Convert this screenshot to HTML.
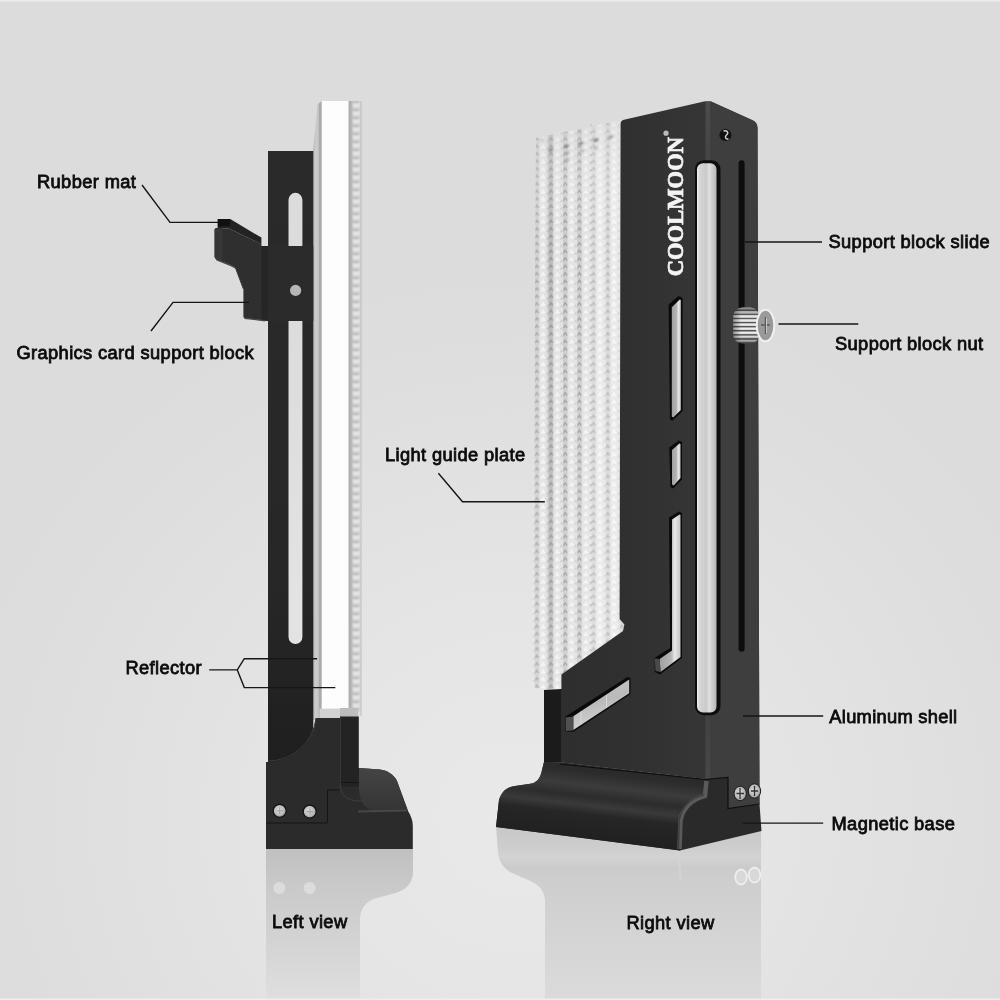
<!DOCTYPE html>
<html><head><meta charset="utf-8">
<style>
html,body{margin:0;padding:0;width:1000px;height:1000px;overflow:hidden;background:#dcdcdc;}
svg{display:block;position:absolute;left:0;top:0;will-change:transform;}
.lbl{font-family:"Liberation Sans",sans-serif;font-size:18.3px;fill:#0c0c0c;stroke:#0c0c0c;stroke-width:0.8px;letter-spacing:0.37px;}
</style></head><body>
<svg width="1000" height="1000" viewBox="0 0 1000 1000">
<defs>
  <radialGradient id="bgGlow" gradientUnits="userSpaceOnUse" cx="520" cy="820" r="640" gradientTransform="translate(520 820) scale(1 0.95) translate(-520 -820)">
    <stop offset="0" stop-color="#e9e9e9"/>
    <stop offset="0.35" stop-color="#e5e5e5"/>
    <stop offset="0.7" stop-color="#dfdfdf"/>
    <stop offset="1" stop-color="#dcdcdc" stop-opacity="0"/>
  </radialGradient>
  <linearGradient id="reflL" x1="0" y1="849" x2="0" y2="1000" gradientUnits="userSpaceOnUse">
    <stop offset="0" stop-color="#c0c0c0"/>
    <stop offset="0.3" stop-color="#cbcbcb"/>
    <stop offset="0.7" stop-color="#d6d6d6"/>
    <stop offset="1" stop-color="#dfdfdf"/>
  </linearGradient>
  <linearGradient id="reflR" x1="0" y1="830" x2="0" y2="1000" gradientUnits="userSpaceOnUse">
    <stop offset="0" stop-color="#c9c9c9"/>
    <stop offset="0.1" stop-color="#cdcdcd"/>
    <stop offset="0.16" stop-color="#d3d3d3"/>
    <stop offset="0.22" stop-color="#cbcbcb"/>
    <stop offset="0.3" stop-color="#cecece"/>
    <stop offset="0.6" stop-color="#d4d4d4"/>
    <stop offset="1" stop-color="#dbdbdb"/>
  </linearGradient>
  <linearGradient id="strip" x1="313" y1="0" x2="322" y2="0" gradientUnits="userSpaceOnUse">
    <stop offset="0" stop-color="#b4b4b4"/>
    <stop offset="0.3" stop-color="#cdcdcd"/>
    <stop offset="0.6" stop-color="#c4c4c4"/>
    <stop offset="0.75" stop-color="#a4a4a4"/>
    <stop offset="0.92" stop-color="#b0b0b0"/>
    <stop offset="1" stop-color="#eeeeee"/>
  </linearGradient>
  <linearGradient id="rail" x1="697" y1="0" x2="716.5" y2="0" gradientUnits="userSpaceOnUse">
    <stop offset="0" stop-color="#f0f0f0"/>
    <stop offset="0.15" stop-color="#d4d4d4"/>
    <stop offset="0.5" stop-color="#cacaca"/>
    <stop offset="0.6" stop-color="#e0e0e0"/>
    <stop offset="1" stop-color="#b6b6b6"/>
  </linearGradient>
  <pattern id="dots" x="348.5" y="101" width="13" height="8" patternUnits="userSpaceOnUse">
    <rect width="13" height="8" fill="#cfcfcf"/>
    <rect x="0" width="2.5" height="8" fill="#9a9a9a"/>
    <rect x="2.5" width="1.5" height="8" fill="#bcbcbc"/>
    <ellipse cx="7.5" cy="4" rx="3.2" ry="3" fill="#e6e6e6"/>
    <path d="M5,0.4 L7.5,1.6 L10,0.4" stroke="#9c9c9c" stroke-width="1.3" fill="none"/>
    <rect x="11" width="2" height="8" fill="#dadada"/>
  </pattern>
  <pattern id="plate" x="534.6" y="0" width="14.2" height="7.5" patternUnits="userSpaceOnUse">
    <rect width="14.2" height="7.5" fill="#e2e2e2"/>
    <rect x="0" width="4.5" height="7.5" fill="#cccccc"/>
    <path d="M0.4,5.6 L2.2,2.8 L4,5.6" stroke="#9c9c9c" stroke-width="1.3" fill="none"/>
    <path d="M8.6,1.2 L11.3,6.2 L5.9,6.2 Z" fill="#f4f4f4"/>
    <path d="M11.8,7 L12.8,5.5 L13.8,7" stroke="#c4c4c4" stroke-width="1" fill="none"/>
  </pattern>
  <filter id="soft" x="-5%" y="-5%" width="110%" height="110%"><feGaussianBlur stdDeviation="0.55"/></filter>
  <filter id="soft2" x="-20%" y="-5%" width="140%" height="110%"><feGaussianBlur stdDeviation="0.8"/></filter>
  <clipPath id="ledgeClip"><rect x="348.5" y="101" width="13" height="615"/></clipPath>
  <clipPath id="rplateClip"><path d="M536,138 L550,135 L618,121 L620,121 L620,619 L624.4,624.5 L623,631 L561.4,674.4 L561,689 L544,690 L532,686.4 Z"/></clipPath>
  <linearGradient id="plateShade" x1="0" y1="120" x2="0" y2="690" gradientUnits="userSpaceOnUse">
    <stop offset="0" stop-color="#cfcfcf" stop-opacity="0.35"/>
    <stop offset="0.2" stop-color="#ffffff" stop-opacity="0"/>
    <stop offset="1" stop-color="#ffffff" stop-opacity="0.1"/>
  </linearGradient>
  <linearGradient id="plateH" x1="533" y1="0" x2="620" y2="0" gradientUnits="userSpaceOnUse">
    <stop offset="0" stop-color="#ffffff" stop-opacity="0.15"/>
    <stop offset="0.15" stop-color="#ffffff" stop-opacity="0"/>
    <stop offset="0.17" stop-color="#707070" stop-opacity="0.18"/>
    <stop offset="0.22" stop-color="#707070" stop-opacity="0.18"/>
    <stop offset="0.25" stop-color="#ffffff" stop-opacity="0"/>
    <stop offset="0.62" stop-color="#ffffff" stop-opacity="0.05"/>
    <stop offset="0.68" stop-color="#ffffff" stop-opacity="0.3"/>
    <stop offset="1" stop-color="#ffffff" stop-opacity="0.25"/>
  </linearGradient>
  <linearGradient id="barG" x1="0" y1="151" x2="0" y2="766" gradientUnits="userSpaceOnUse">
    <stop offset="0" stop-color="#2a2a2a"/>
    <stop offset="0.7" stop-color="#272727"/>
    <stop offset="1" stop-color="#1f1f1f"/>
  </linearGradient>
  <linearGradient id="slotG" x1="0" y1="0" x2="1" y2="0">
    <stop offset="0" stop-color="#a0a0a0"/>
    <stop offset="0.55" stop-color="#b6b6b6"/>
    <stop offset="0.72" stop-color="#e8e8e8"/>
    <stop offset="1" stop-color="#c6c6c6"/>
  </linearGradient>
  <linearGradient id="slotD" x1="0" y1="0" x2="0.2" y2="1">
    <stop offset="0" stop-color="#c4c4c4"/>
    <stop offset="0.5" stop-color="#bababa"/>
    <stop offset="1" stop-color="#d2d2d2"/>
  </linearGradient>
  <linearGradient id="cornerG" x1="0" y1="102" x2="0" y2="779" gradientUnits="userSpaceOnUse">
    <stop offset="0" stop-color="#4c4c4c"/>
    <stop offset="0.12" stop-color="#424242"/>
    <stop offset="0.5" stop-color="#3c3c3c"/>
    <stop offset="0.85" stop-color="#3e3e3e"/>
    <stop offset="1" stop-color="#484848"/>
  </linearGradient>
  <linearGradient id="frontG" x1="560" y1="0" x2="710" y2="0" gradientUnits="userSpaceOnUse">
    <stop offset="0" stop-color="#2e2e2e"/>
    <stop offset="0.45" stop-color="#303030"/>
    <stop offset="1" stop-color="#363636"/>
  </linearGradient>
  <linearGradient id="lipL" x1="0" y1="768" x2="0" y2="811" gradientUnits="userSpaceOnUse">
    <stop offset="0" stop-color="#444444"/>
    <stop offset="0.5" stop-color="#3c3c3c"/>
    <stop offset="1" stop-color="#343434"/>
  </linearGradient>
  <linearGradient id="lipR" gradientUnits="userSpaceOnUse" x1="0" y1="760" x2="0" y2="850" gradientTransform="rotate(6.6 600 800)">
    <stop offset="0" stop-color="#262626"/>
    <stop offset="0.16" stop-color="#2c2c2c"/>
    <stop offset="0.3" stop-color="#3c3c3c"/>
    <stop offset="0.42" stop-color="#2c2c2c"/>
    <stop offset="0.52" stop-color="#3a3a3a"/>
    <stop offset="0.62" stop-color="#262626"/>
    <stop offset="1" stop-color="#1e1e1e"/>
  </linearGradient>
  <radialGradient id="screw" cx="0.45" cy="0.45" r="0.6">
    <stop offset="0" stop-color="#e0e0e0"/>
    <stop offset="0.6" stop-color="#bcbcbc"/>
    <stop offset="1" stop-color="#8a8a8a"/>
  </radialGradient>
  <linearGradient id="knurl" x1="0" y1="307.5" x2="0" y2="311.6" gradientUnits="userSpaceOnUse" spreadMethod="repeat">
    <stop offset="0" stop-color="#f6f6f6"/>
    <stop offset="0.4" stop-color="#d8d8d8"/>
    <stop offset="0.62" stop-color="#505050"/>
    <stop offset="0.78" stop-color="#707070"/>
    <stop offset="1" stop-color="#f6f6f6"/>
  </linearGradient>
  <linearGradient id="knurlShade" x1="0" y1="0" x2="0" y2="1">
    <stop offset="0" stop-color="#000" stop-opacity="0.45"/>
    <stop offset="0.25" stop-color="#000" stop-opacity="0.0"/>
    <stop offset="0.75" stop-color="#000" stop-opacity="0.0"/>
    <stop offset="1" stop-color="#000" stop-opacity="0.45"/>
  </linearGradient>
  <linearGradient id="knurlShadeH" x1="0" y1="0" x2="1" y2="0">
    <stop offset="0" stop-color="#000" stop-opacity="0.35"/>
    <stop offset="0.3" stop-color="#000" stop-opacity="0.0"/>
    <stop offset="1" stop-color="#000" stop-opacity="0.0"/>
  </linearGradient>
</defs>

<!-- background -->
<rect x="0" y="0" width="1000" height="1000" fill="#dcdcdc"/>
<rect x="0" y="0" width="1000" height="1000" fill="url(#bgGlow)"/>
<rect x="0" y="0" width="1000" height="1.5" fill="#ececec"/>

<!-- ================= LEFT VIEW ================= -->
<!-- reflection -->
<path d="M266,849 L413,849 L413,872 C413,884 405,891 392,894 L377,898 C366,901 360,908 360,920 L360,1000 L266,1000 Z" fill="url(#reflL)"/>
<circle cx="279.4" cy="888" r="6" fill="#dcdcdc"/>
<circle cx="309.6" cy="888" r="6" fill="#dcdcdc"/>

<!-- light guide plate (side) -->
<path d="M313,151 L317.5,104 L322,101 L322,720 L313,720 Z" fill="url(#strip)"/>
<rect x="322" y="101" width="26.5" height="608" fill="#fdfdfd"/>
<g clip-path="url(#ledgeClip)"><rect x="346" y="98" width="18" height="622" fill="url(#dots)" filter="url(#soft2)"/></g>
<rect x="319.5" y="708.6" width="21" height="11.5" fill="#d2d2d2"/>
<rect x="340" y="708" width="18" height="9" fill="#bdbdbd"/>

<!-- dark bar with slots -->
<path fill-rule="evenodd" fill="url(#barG)" d="M268,151 H313.3 V766 H268 Z
  M288.5,199.8 A6.95,6.95 0 0 1 302.4,199.8 V245.5 Q302.4,247.2 300.7,247.2 H290.2 Q288.5,247.2 288.5,245.5 Z
  M288.5,321 H302.4 V637 A6.95,6.95 0 0 1 288.5,637 Z"/>
<!-- clamp + pin -->
<rect x="268" y="246" width="45.3" height="75" fill="#2b2b2b"/>
<circle cx="295.6" cy="290.4" r="5.6" fill="#b6b6b6"/>

<!-- support block -->
<path d="M214.6,230 C214.6,228.8 215.5,228 217,228 L229,228.5 L261.4,244 L261.4,246 L268,246 L268,321 L265,320.6 L244.5,318 C243.6,317.8 243.4,317 243.4,316 L243.4,289 L235.5,268 C232,265 226,263 220,261 C216.5,259.8 214.6,258.5 214.6,256.5 Z" fill="#2f2f2f"/>
<path d="M214.6,230 C214.6,228.8 215.5,228 217,228 L222.5,228.2 L222.5,261.5 L220,261 C216.5,259.8 214.6,258.5 214.6,256.5 Z" fill="#373737"/>
<path d="M261.4,246 L268,246 L268,321 L261.5,320.4 Z" fill="#262626"/>
<path d="M217.6,228 L217.6,226.2 L230.2,219 L261.4,237.6 L261.4,244.2 L229,228.5 Z" fill="#232323"/>
<rect x="217.6" y="219" width="12.6" height="7.2" fill="#111"/>
<path d="M216,259.5 C222,262.5 230,264.5 235.5,268" stroke="#474747" stroke-width="1.2" fill="none"/>
<path d="M243.4,289 L235.5,268" stroke="#3a3a3a" stroke-width="1" fill="none"/>
<path d="M244.5,318.2 L265,320.8" stroke="#484848" stroke-width="1.4" fill="none"/>

<!-- lower section -->
<path d="M266,762 L268,762 A48,48 0 0 0 316,718 L340,718 L340,768.5 L359,768 L380,769.4 C386,770 394,774 397,781 L408,811 C411,816 412.8,820 412.8,826 L412.8,849 L266,849 Z" fill="#2b2b2b"/>
<path d="M268,761 A48,48 0 0 0 316,718" stroke="#3a3a3a" stroke-width="1" fill="none"/>
<path d="M359,768 L380,769.4 C386,770 394,774 397,781 L408,811 L374,811 C364,809 359,800 359,788 Z" fill="url(#lipL)"/>
<path d="M358,811.5 L407,810.5" stroke="#474747" stroke-width="2" fill="none"/>
<rect x="340" y="716.5" width="18.8" height="70" fill="#232323"/>
<path d="M340.5,716.5 V790" stroke="#363636" stroke-width="1"/>
<path d="M340,786 C341,797 350,801 360,801 L366,801" stroke="#3c3c3c" stroke-width="1.2" fill="none"/>
<path d="M341,782.5 H358.8" stroke="#151515" stroke-width="1"/>
<path d="M266.5,823 H327.5 V790 H340" stroke="#151515" stroke-width="1" fill="none"/>
<circle cx="279.7" cy="810.8" r="6.5" fill="url(#screw)" stroke="#101010" stroke-width="1.2"/>
<circle cx="309.7" cy="811.6" r="6.5" fill="url(#screw)" stroke="#101010" stroke-width="1.2"/>
<path d="M279.7,807.5 V814 M276.5,810.7 H283 M310,808.4 V814.8 M306.8,811.6 H313.2" stroke="#a0a0a0" stroke-width="1.1"/>

<!-- ================= RIGHT VIEW ================= -->
<!-- reflection -->
<path d="M496,827 L680,850.4 L761,831 L761,1000 L545,1000 L545,900 C544,889 538,884 526,879 L512,873 C503,868 499,862 498,852 Z" fill="url(#reflR)"/>
<ellipse cx="741" cy="877" rx="5.8" ry="7.5" fill="#d8d8d8" stroke="#eeeeee" stroke-width="1.8"/>
<ellipse cx="754.5" cy="875" rx="5.8" ry="7.5" fill="#d8d8d8" stroke="#eeeeee" stroke-width="1.8"/>
<path d="M678.5,852 L680.5,880" stroke="#d3d3d3" stroke-width="2.2" fill="none"/>

<!-- light guide plate -->
<g clip-path="url(#rplateClip)"><rect x="528" y="115" width="100" height="580" fill="url(#plate)" filter="url(#soft)"/></g>
<path d="M536,138 L550,135 L618,121 L620,121 L620,619 L624.4,624.5 L623,631 L561.4,674.4 L561,689 L544,690 L532,686.4 Z" fill="url(#plateH)"/>
<path d="M536,138 L550,135 L618,121 L620,121 L620,619 L624.4,624.5 L623,631 L561.4,674.4 L561,689 L544,690 L532,686.4 Z" fill="url(#plateShade)"/>
<g filter="url(#soft2)">
<ellipse cx="550.7" cy="150" rx="2.4" ry="1.3" transform="rotate(-35 550.7 150)" fill="#7e7e7e"/>
<ellipse cx="566.5" cy="146.3" rx="2.8" ry="1.4" transform="rotate(-20 566.5 146.3)" fill="#7e7e7e"/>
<ellipse cx="580.7" cy="143.5" rx="2.8" ry="1.4" transform="rotate(-20 580.7 143.5)" fill="#808080"/>
<ellipse cx="596" cy="140.2" rx="3" ry="1.5" transform="rotate(-20 596 140.2)" fill="#7c7c7c"/>
<ellipse cx="610.8" cy="137" rx="2.6" ry="1.3" transform="rotate(-20 610.8 137)" fill="#909090"/>
<ellipse cx="567" cy="153" rx="2.5" ry="1.2" transform="rotate(-20 567 153)" fill="#a0a0a0"/>
<ellipse cx="567" cy="160" rx="2.5" ry="1.2" transform="rotate(-20 567 160)" fill="#a8a8a8"/>
<ellipse cx="582" cy="151" rx="2.4" ry="1.1" transform="rotate(-20 582 151)" fill="#acacac"/>
<ellipse cx="596" cy="148" rx="2.4" ry="1.1" transform="rotate(-20 596 148)" fill="#acacac"/>
<ellipse cx="542" cy="140" rx="3" ry="1.2" fill="#c4c4c4"/>
</g>
<path d="M591,124 V655" stroke="#c2c2c2" stroke-width="1.5" stroke-dasharray="2 5.5" fill="none"/>

<!-- body -->
<path d="M620.6,124 C620.6,121 622,120 625,119.4 L704,101.6 C706,101 709,101 711,101.6 L752,120 C755.5,121.5 757.5,124 757.5,128 L759.5,804 L728,808.5 L728,777 L705,779 L561.4,762.5 L561.4,674.4 L623,631 L624.4,624.5 L619.6,619 Z" fill="url(#frontG)"/>
<path d="M710,101.6 L711,101.6 L752,120 C755.5,121.5 757.5,124 757.5,128 L759.5,804 L728,808.5 L728,777 L710,779 Z" fill="#3e3e3e"/>
<rect x="705.5" y="102" width="4.5" height="677" fill="url(#cornerG)"/>
<path d="M544,690 L561.4,689 L561.4,762.5 L544,762 Z" fill="#1b1b1b"/>
<path d="M561.4,689 V762.5" stroke="#2a2a2a" stroke-width="1"/>

<!-- rail + slots -->
<rect x="695" y="160.2" width="25.5" height="555" rx="9" fill="#0e0e0e"/>
<rect x="697" y="163.2" width="19.5" height="549.3" rx="6" fill="url(#rail)"/>
<rect x="738.6" y="160.2" width="6" height="491.5" rx="3" fill="#0d0d0d"/>
<circle cx="725.4" cy="135" r="6" fill="#111"/>
<path d="M723.5,131 C727.5,130 729,133 726.5,135 C724.5,137 725.5,139.5 728.5,139" stroke="#d0d0d0" stroke-width="1.4" fill="none"/>

<!-- front slots -->
<path d="M668.6,304.4 L678.6,296 L682.6,298 L682.6,411 L672,421 L670,419 Z" fill="#0a0a0a"/>
<path d="M671.8,307.2 L679.8,299.6 L680.8,300 L680.8,410 L673.2,417.5 L671.8,416.5 Z" fill="url(#slotG)"/>
<path d="M669.2,447.5 L679,440.5 L682,442 L682,479.5 L673,488.5 L670.5,487 Z" fill="#0a0a0a"/>
<path d="M672,450 L679.5,443.5 L680.5,444 L680.5,478 L673.8,485.5 L672,484.5 Z" fill="url(#slotG)"/>
<path d="M669,517.5 L679,511.5 L682,513 L682,658 L660,674.5 L654.8,672 L654.8,657.8 L670.2,648 Z" fill="#0a0a0a"/>
<path d="M672,519.5 L679.5,514.5 L680.5,515 L680.5,657 L660.5,672 L659.7,659 L672,650.5 Z" fill="url(#slotG)"/>
<path d="M654.8,658.5 L659.7,659 L660.5,672 L655.5,671 Z" fill="#4a4a4a"/>
<path d="M565.6,716.5 L627.5,677 L630.5,678 L630.5,694 L573.5,731.8 L565.6,731.5 Z" fill="#0a0a0a"/>
<path d="M573.3,716.2 L629.2,679.6 L629.2,693.2 L573.3,730 Z" fill="url(#slotD)"/>
<path d="M565.8,717.5 L573.3,716.5 L573.3,730.5 L566,731 Z" fill="#505050"/>
<path d="M581,724.5 V711.5 M606.5,708 V695" stroke="#d8d8d8" stroke-width="1"/>

<!-- COOLMOON -->
<text transform="translate(682.8,276.3) rotate(-90)" font-family="Liberation Serif" font-weight="bold" font-size="22.6" fill="#f4f4f4" stroke="#f4f4f4" stroke-width="0.7">COOLMOON</text>
<circle cx="666" cy="133.2" r="2.6" fill="#bbb"/>

<!-- nut -->
<rect x="733.3" y="307.6" width="26" height="35.8" rx="9" fill="url(#knurl)"/>
<rect x="733.3" y="307.6" width="26" height="35.8" rx="9" fill="url(#knurlShade)"/>
<rect x="733.3" y="307.6" width="26" height="35.8" rx="9" fill="url(#knurlShadeH)"/>
<ellipse cx="765.5" cy="325.5" rx="8.8" ry="15.8" fill="#9a9a9a" stroke="#f0f0f0" stroke-width="2"/>
<path d="M765.5,317 V334 M761,325 H770" stroke="#5a5a5a" stroke-width="1.4"/><path d="M766.5,318 V333" stroke="#d8d8d8" stroke-width="0.8"/>

<!-- base -->
<path d="M496,827 L499,800 C502,790 508,787 515,786 L532,783.5 C538,782 541,776 542,770 L544,762 L561.4,762.5 L705,779 L728,777 L728,808.5 L759.5,804 L761.5,831 L680,850.4 Z" fill="#2a2a2a"/>
<path d="M496,827 L499,800 C502,790 508,787 515,786 L532,783.5 C538,782 541,776 542,770 L544,762 L561.4,762.5 L705,779 L705,795 C700,800 690,806 684,814 L680,850.4 Z" fill="url(#lipR)"/>
<path d="M679.5,849 L680.5,820 C683,808 692,799 705,796 L706.5,781" stroke="#5a5a5a" stroke-width="4.5" fill="none"/><path d="M678.5,849 L679.2,820 C682,807 691,798 704,795" stroke="#3a3a3a" stroke-width="1.2" fill="none"/>
<path d="M560,764 L705,779.5 L728,777.5 V808.5 L759.5,804" stroke="#0e0e0e" stroke-width="1.2" fill="none"/>
<ellipse cx="740.2" cy="793.5" rx="6.2" ry="7.2" fill="url(#screw)" stroke="#1a1a1a" stroke-width="1"/>
<ellipse cx="754.5" cy="791" rx="6.2" ry="7.2" fill="url(#screw)" stroke="#1a1a1a" stroke-width="1"/>
<path d="M740,788 V799 M736.5,793.5 H744 M754.5,786 V796 M751,791 H758" stroke="#333" stroke-width="1.3"/>

<rect x="0" y="998.5" width="1000" height="1.5" fill="#eeeeee"/>
<!-- ================= LABELS ================= -->
<g stroke="#161616" stroke-width="1.4" fill="none">
  <path d="M142,185 L170,222.4 L218,222.4"/>
  <path d="M151,331 L173,302.4 L249,302.4"/>
  <path d="M745,242 L822,242"/>
  <path d="M778.5,324 L858.3,324"/>
  <path d="M438.4,473.3 L462.5,501.8 L544.8,501.8"/>
  <path d="M209.2,669.9 L237.3,669.9 L244.3,658.7 L317.1,658.7 M237.3,669.9 L244.3,687.6 L335.3,687.6"/>
  <path d="M743,716 L823.2,716"/>
  <path d="M742.6,823.1 L823.2,823.1"/>
</g>
<text class="lbl" x="37" y="188">Rubber mat</text>
<text class="lbl" x="16.5" y="358.8">Graphics card support block</text>
<text class="lbl" x="828.5" y="248">Support block slide</text>
<text class="lbl" x="835" y="350">Support block nut</text>
<text class="lbl" x="385" y="461">Light guide plate</text>
<text class="lbl" x="125.5" y="673.8">Reflector</text>
<text class="lbl" x="829.3" y="723.3" style="letter-spacing:0.3px">Aluminum shell</text>
<text class="lbl" x="831.5" y="829.6">Magnetic base</text>
<text class="lbl" x="272" y="928.4">Left view</text>
<text class="lbl" x="626.5" y="928.7">Right view</text>
</svg>
</body></html>
